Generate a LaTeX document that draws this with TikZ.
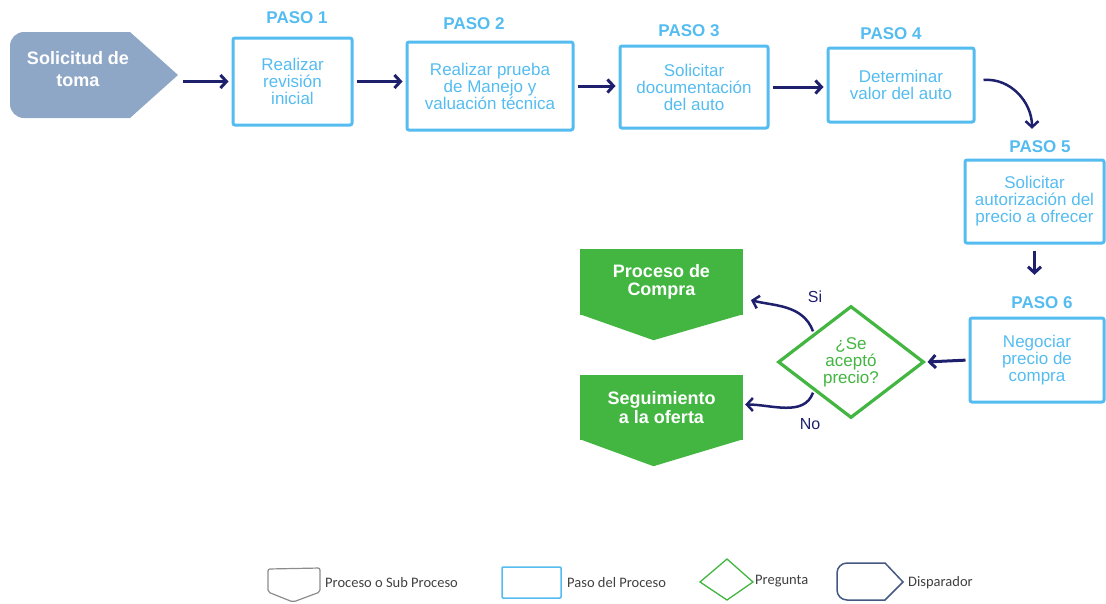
\documentclass[tikz,border=0pt]{standalone}
\usepackage{fontspec}
\setmainfont{Liberation Sans}
\newfontfamily\legendfont{Carlito}
\usetikzlibrary{arrows.meta,shapes.geometric}

\definecolor{stepblue}{RGB}{84,188,240}
\definecolor{navy}{RGB}{30,32,110}
\definecolor{okgreen}{RGB}{66,182,64}
\definecolor{trigfill}{RGB}{143,167,199}
\definecolor{trigline}{RGB}{68,88,130}

\tikzset{
  stepbox/.style={draw=stepblue,line width=3pt,rounded corners=2pt,text=stepblue,
    align=center,inner sep=0pt,font=\fontsize{17}{17}\selectfont},
  pasolabel/.style={text=stepblue,inner sep=0pt,font=\bfseries\fontsize{17}{18}\selectfont},
  flow/.style={draw=navy,line width=3pt,-{Straight Barb[length=6pt,width=13pt]},
    shorten <=3pt,shorten >=3pt},
  procbox/.style={fill=okgreen,text=white,align=center,inner sep=0pt,
    font=\bfseries\fontsize{18}{18.5}\selectfont},
  question/.style={diamond,draw=okgreen,line width=3.2pt,text=okgreen,align=center,
    inner sep=0pt,aspect=1.3,font=\fontsize{17}{17}\selectfont},
  answer/.style={text=navy,inner sep=0pt,font=\fontsize{16}{16}\selectfont},
  legend/.style={anchor=west,inner sep=0pt,text=black!75,font=\legendfont\fontsize{14.5}{16}\selectfont}
}

\begin{document}
\begin{tikzpicture}[x=1pt,y=-1pt]
  \useasboundingbox (0,0) rectangle (1106,603);

  % Disparador
  \fill[trigfill] (24,32) -- (130,32) -- (178,75) -- (130,118) -- (24,118)
    to[out=180,in=-90] (10,104) -- (10,46) to[out=90,in=180] (24,32) -- cycle;
  \node[text=white,align=center,inner sep=0pt,font=\bfseries\fontsize{18}{22}\selectfont]
    (trig) at (78,69) {Solicitud de\\toma};
  \coordinate (trigtip) at (183,75);

  % Pasos del proceso
  \node[stepbox,minimum width=119,minimum height=87] (p1) at (292.5,81.5) {Realizar\\revisión\\inicial};
  \node[stepbox,minimum width=166,minimum height=88] (p2) at (490,86) {Realizar prueba\\de Manejo y\\valuación técnica};
  \node[stepbox,minimum width=148,minimum height=82] (p3) at (694,87) {Solicitar\\documentación\\del auto};
  \node[stepbox,minimum width=146,minimum height=74] (p4) at (901,85) {Determinar\\valor del auto};
  \node[stepbox,minimum width=139,minimum height=83] (p5) at (1034.5,201.5) {Solicitar\\autorización del\\precio a ofrecer};
  \node[stepbox,minimum width=134,minimum height=84] (p6) at (1037,360) {Negociar\\precio de\\compra};

  \node[pasolabel] (l1) at (297,18) {PASO 1};
  \node[pasolabel] (l2) at (474,24) {PASO 2};
  \node[pasolabel] (l3) at (689,31) {PASO 3};
  \node[pasolabel] (l4) at (891,34) {PASO 4};
  \node[pasolabel] (l5) at (1040,147) {PASO 5};
  \node[pasolabel] (l6) at (1042,303) {PASO 6};

  % Pregunta
  \node[question,minimum width=146,minimum height=112] (q) at (851,362) {¿Se\\aceptó\\precio?};

  % Procesos
  \node[procbox,minimum width=163,minimum height=66] (buy) at (661.5,282) {Proceso de\\Compra};
  \fill[okgreen] ([yshift=1pt]buy.south west) -- ([shift={(-8pt,-25pt)}]buy.south) -- ([yshift=1pt]buy.south east) -- cycle;
  \node[procbox,minimum width=163,minimum height=65] (seg) at (661.5,407.5) {Seguimiento\\a la oferta};
  \fill[okgreen] ([yshift=1pt]seg.south west) -- ([shift={(-8pt,-26pt)}]seg.south) -- ([yshift=1pt]seg.south east) -- cycle;

  % Flechas
  \draw[flow,shorten <=0pt] (trigtip |- p1) -- (p1);
  \draw[flow] (p1.east) -- (p1.east -| p2.west);
  \draw[flow] (p2.east) -- (p2.east -| p3.west);
  \draw[flow] (p3.east) -- (p3.east -| p4.west);
  \draw[flow,line width=2.5pt,shorten <=0pt,shorten >=0pt] ([shift={(8pt,5pt)}]p4.east) to[out=5,in=90] ([yshift=12pt]l5.north -| 1032,0);
  \draw[flow,shorten <=6pt,shorten >=22pt] (p5.south) -- (p5.south |- l6.north);
  \draw[flow,shorten >=2pt] (p6.west) -- (q.east);
  \draw[flow,line width=2.5pt,shorten <=2pt,shorten >=8pt] (q.north west) to[out=110,in=-15] ([yshift=-16pt]buy.east);
  \draw[flow,line width=2.5pt,shorten <=2pt,shorten >=2pt] (q.south west) to[out=-110,in=0] ([yshift=3pt]seg.east);
  \node[answer] (si) at (815,297) {Si};
  \node[answer] (no) at (810,424) {No};

  % Leyenda
  \draw[black!45,line width=1.2pt,rounded corners=2pt] (268,592) -- (268,569) -- (320,568) -- (320,592) -- (293,602) -- cycle;
  \node[legend] (lg1) at (325,583) {Proceso o Sub Proceso};
  \draw[stepblue,line width=1.5pt,rounded corners=1pt] (502,567) rectangle (561,598);
  \node[legend] (lg2) at (567,583) {Paso del Proceso};
  \draw[okgreen,line width=1.3pt] (700,582) -- (727,559) -- (753,582) -- (727,600) -- cycle;
  \node[legend] (lg3) at (755,581) {Pregunta};
  \draw[trigline,line width=1.5pt] (885,563) -- (903,582) -- (885,600) -- (847,600)
    to[out=180,in=-90] (837,590) -- (837,573) to[out=90,in=180] (847,563) -- cycle;
  \node[legend] (lg4) at (908,583) {Disparador};
\end{tikzpicture}
\end{document}
